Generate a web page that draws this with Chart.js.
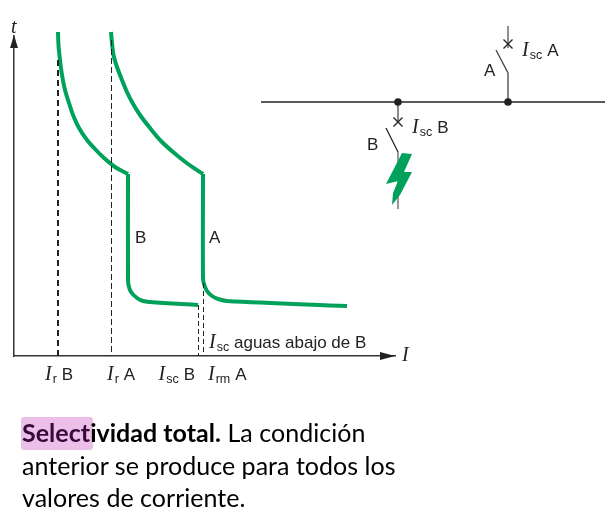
<!DOCTYPE html>
<html lang="es">
<head>
<meta charset="utf-8">
<title>Selectividad total</title>
<script src="https://cdn.jsdelivr.net/npm/chart.js@4.4.1/dist/chart.umd.min.js"></script>
<style>
	html, body { margin: 0; padding: 0; background: #fff; }
	#wrap { position: relative; width: 605px; height: 516px; overflow: hidden; }
	#wrap canvas { position: absolute; left: 0; top: 0; }
	#mark { position: absolute; left: 21px; top: 417px; width: 72px; height: 33px; background: #ebbfe8; border-radius: 3px; }
	#note { position: absolute; left: 22px; top: 416px; width: 420px; font: 25px/32.5px Lato, sans-serif; color: #000; letter-spacing: 0.03px; }
	#note span { color: #36083c; }
</style>
</head>
<body>
<div id="wrap">
	<canvas id="chart" width="605" height="516"></canvas>
	<div id="mark"></div>
	<div id="note"><b><span>Select</span>ividad total.</b> La condición<br>anterior se produce para todos los<br>valores de corriente.</div>
</div>
<script>
	// values (I and t in arbitrary units)
	const curveB_upper_I = [44, 44.5, 46, 48, 51, 55, 59, 65, 73, 81, 89, 101, 114];
	const curveB_upper_t = [324, 311, 296, 281, 266, 253, 241, 228, 216, 207, 199, 189, 182];
	const curveB_lower_I = [114, 114, 114.5, 117, 123, 129, 136, 184];
	const curveB_lower_t = [182, 78, 71, 64, 58, 55, 54, 51];
	const curveA_upper_I = [97, 98, 99.5, 103, 108, 113, 118, 126, 136, 147, 159, 174, 189];
	const curveA_upper_t = [324, 313, 301, 289, 276, 264, 254, 241, 228, 215, 204, 192, 182];
	const curveA_lower_I = [189, 189, 190, 193, 198, 204, 213, 333];
	const curveA_lower_t = [182, 78, 72, 65, 60, 57, 55, 50];

	const tickValues = [44, 97.5, 184.5, 189.5];
	const tickNames = [['I', 'r', 'B'], ['I', 'r', 'A'], ['I', 'sc', 'B'], ['I', 'rm', 'A']];

	const dropIrB_t = [296, 0];
	const dropIrA_t = [316, 0];
	const dropIscB_t = [51, 0];
	const dropIrmA_t = [73, 0];

	// one-line diagram on the right, same axes
	const busbar_I = [247, 591];
	const busbar_t = [254, 254];
	const nodes_I = [384, 494];
	const nodes_t = [254, 254];
	const crosses_I = [494, 384];
	const crosses_t = [312, 234];
	const feedA_I = [494, 494];
	const feedA_t = [330, 308];
	const stemA_I = [494, 494, 482];
	const stemA_t = [254, 283, 306];
	const stemB_I = [384, 384];
	const stemB_t = [254, 234];
	const armB_I = [372, 384];
	const armB_t = [228, 204];
	const tailB_I = [384, 384];
	const tailB_t = [204, 147];
	const bolt_I = [388, 398, 390, 398, 386, 378, 379, 384, 372];
	const bolt_t = [203, 202, 184, 184, 161, 151, 163, 175, 172];

	const green = '#00a15b';
	const ink = '#222222';

	function series(xs, ys, color, width, extra) {
		return Object.assign({
			data: xs.map((x, i) => ({ x: x, y: ys[i] })),
			showLine: true,
			borderColor: color,
			backgroundColor: color,
			borderWidth: width,
			pointRadius: 0,
			clip: false
		}, extra || {});
	}

	function drop(x, ts, width, dash) {
		return series([x, x], ts, ink, width, { borderDash: dash });
	}

	function curve(xs, ys) {
		return series(xs, ys, green, 4, { tension: 0.35, borderCapStyle: 'butt', borderJoinStyle: 'round' });
	}

	// I with a subscript and a trailing word, the picture mixes three fonts here
	function drawLabel(ctx, x, y, parts) {
		ctx.textAlign = 'left';
		ctx.textBaseline = 'alphabetic';
		ctx.fillStyle = ink;
		ctx.font = 'italic 20px "Liberation Serif"';
		ctx.fillText(parts[0], x, y);
		x += ctx.measureText(parts[0]).width + 1;
		ctx.font = '12.5px "Liberation Sans"';
		ctx.fillText(parts[1], x, y + 3);
		x += ctx.measureText(parts[1]).width + 5;
		ctx.font = '17px "Liberation Sans"';
		ctx.fillText(parts[2], x, y);
	}

	const drawingPlugin = {
		id: 'drawing',
		afterDatasetsDraw(chart) {
			const ctx = chart.ctx;
			const xs = chart.scales.x;
			const ys = chart.scales.y;
			const area = chart.chartArea;
			ctx.save();

			// lightning bolt
			ctx.fillStyle = green;
			ctx.beginPath();
			bolt_I.forEach((v, i) => ctx.lineTo(xs.getPixelForValue(v), ys.getPixelForValue(bolt_t[i])));
			ctx.closePath();
			ctx.fill();

			// nodes and crosses sit outside the axes box, point elements get culled there
			ctx.fillStyle = ink;
			nodes_I.forEach((v, i) => {
				ctx.beginPath();
				ctx.arc(xs.getPixelForValue(v), ys.getPixelForValue(nodes_t[i]), 3.8, 0, Math.PI * 2);
				ctx.fill();
			});
			ctx.strokeStyle = ink;
			ctx.lineWidth = 1.3;
			crosses_I.forEach((v, i) => {
				const cx = xs.getPixelForValue(v);
				const cy = ys.getPixelForValue(crosses_t[i]);
				ctx.beginPath();
				ctx.moveTo(cx - 4.5, cy - 4.5);
				ctx.lineTo(cx + 4.5, cy + 4.5);
				ctx.moveTo(cx + 4.5, cy - 4.5);
				ctx.lineTo(cx - 4.5, cy + 4.5);
				ctx.stroke();
			});

			// axis arrows
			ctx.beginPath();
			ctx.moveTo(area.left, area.top - 1);
			ctx.lineTo(area.left + 4, area.top + 12);
			ctx.lineTo(area.left - 4, area.top + 12);
			ctx.fill();
			ctx.beginPath();
			ctx.moveTo(area.right, area.bottom);
			ctx.lineTo(area.right - 15, area.bottom - 4);
			ctx.lineTo(area.right - 15, area.bottom + 4);
			ctx.fill();

			// tick labels
			const tickLeft = [-13, -4.5, -40, 4.5];
			tickValues.forEach((v, i) => {
				drawLabel(ctx, xs.getPixelForValue(v) + tickLeft[i], area.bottom + 24, tickNames[i]);
			});

			drawLabel(ctx, 209, 348, ['I', 'sc', '']);
			drawLabel(ctx, 522, 56, ['I', 'sc', 'A']);
			drawLabel(ctx, 412, 133, ['I', 'sc', 'B']);

			ctx.font = '17px "Liberation Sans"';
			ctx.fillText('aguas abajo de B', 234, 348);
			ctx.fillText('B', 135, 243);
			ctx.fillText('A', 209, 243);
			ctx.fillText('A', 484, 76);
			ctx.fillText('B', 367, 150);

			ctx.font = 'italic 20px "Liberation Serif"';
			ctx.fillText('t', 11, 33);
			ctx.fillText('I', 402, 361);
			ctx.restore();
		}
	};

	new Chart(document.getElementById('chart'), {
		type: 'scatter',
		data: {
			datasets: [
				drop(tickValues[0], dropIrB_t, 2, [6, 4]),
				drop(tickValues[1], dropIrA_t, 1, [6, 3]),
				drop(tickValues[2], dropIscB_t, 1, [5, 3]),
				drop(tickValues[3], dropIrmA_t, 1, [5, 3]),
				curve(curveB_upper_I, curveB_upper_t),
				curve(curveB_lower_I, curveB_lower_t),
				curve(curveA_upper_I, curveA_upper_t),
				curve(curveA_lower_I, curveA_lower_t),
				series(busbar_I, busbar_t, ink, 1.3),
				series(feedA_I, feedA_t, '#555555', 1.3),
				series(stemA_I, stemA_t, '#444444', 1.3),
				series(stemB_I, stemB_t, '#666666', 1.5),
				series(armB_I, armB_t, ink, 1.2),
				series(tailB_I, tailB_t, '#777777', 1.5)
			]
		},
		options: {
			responsive: false,
			animation: false,
			layout: { padding: { left: 14, right: 210, top: 36, bottom: 160 } },
			plugins: { legend: { display: false }, tooltip: { enabled: false } },
			scales: {
				x: {
					type: 'linear',
					min: 0,
					max: 381,
					afterBuildTicks: function (scale) {
						scale.ticks = tickValues.map(v => ({ value: v }));
					},
					grid: { display: false, drawTicks: false },
					ticks: { display: false },
					border: { display: true, color: '#333333', width: 1.5 }
				},
				y: {
					type: 'linear',
					min: 0,
					max: 320,
					grid: { display: false, drawTicks: false },
					ticks: { display: false },
					border: { display: true, color: '#333333', width: 1.5 }
				}
			}
		},
		plugins: [drawingPlugin]
	});
</script>
</body>
</html>
